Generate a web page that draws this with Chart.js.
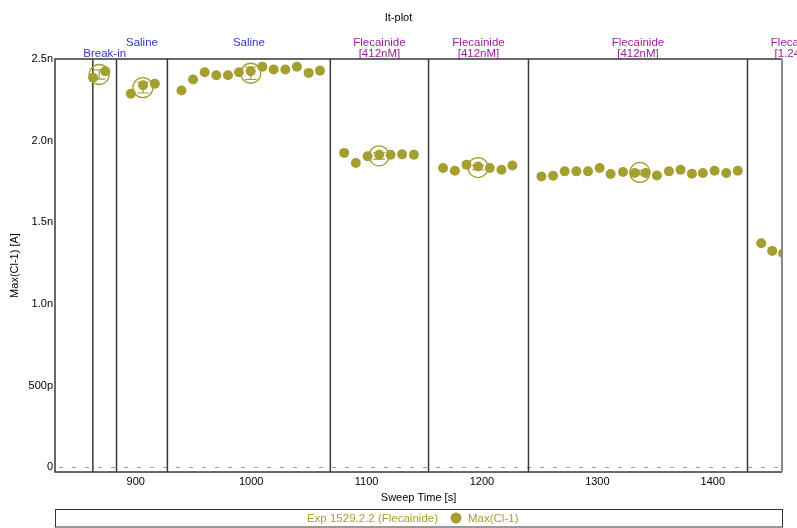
<!DOCTYPE html>
<html><head><meta charset="utf-8">
<script src="https://cdn.jsdelivr.net/npm/chart.js@4"></script>
<style>html,body{margin:0;padding:0;background:#fff;overflow:hidden}</style>
</head><body>
<canvas id="c" width="797" height="528" style="display:block;width:797px;height:528px"></canvas>
<script>
// ---- data (time in s, current in nA) ----
const breakInX  = [863.0, 873.6];
const breakInY  = [2.385, 2.425];
const saline1X  = [895.7, 906.3, 916.5];
const saline1Y  = [2.287, 2.339, 2.348];
const saline2X  = [939.6, 949.6, 959.7, 969.8, 979.9, 989.4, 999.6, 1009.7, 1019.5, 1029.6, 1039.6, 1049.8, 1059.6];
const saline2Y  = [2.307, 2.374, 2.419, 2.401, 2.401, 2.419, 2.425, 2.452, 2.436, 2.436, 2.452, 2.415, 2.429];
const flec1X    = [1080.6, 1090.7, 1100.9, 1110.9, 1120.8, 1130.8, 1141.0];
const flec1Y    = [1.925, 1.863, 1.904, 1.914, 1.914, 1.916, 1.914];
const flec2X    = [1166.3, 1176.5, 1186.6, 1196.6, 1206.8, 1216.9, 1226.4];
const flec2Y    = [1.833, 1.816, 1.853, 1.842, 1.833, 1.822, 1.848];
const flec3X    = [1251.5, 1261.6, 1271.7, 1281.8, 1291.9, 1302.0, 1311.5, 1322.2, 1332.3, 1341.8, 1351.6, 1362.0, 1372.1, 1381.9, 1391.4, 1401.6, 1411.7, 1421.7];
const flec3Y    = [1.781, 1.785, 1.812, 1.812, 1.812, 1.833, 1.796, 1.808, 1.802, 1.802, 1.787, 1.812, 1.822, 1.798, 1.802, 1.816, 1.802, 1.816];
const flec4X    = [1442.0, 1451.5, 1461.0];
const flec4Y    = [1.372, 1.325, 1.310];

const segmentStarts = [862.8, 883.3, 927.4, 1068.6, 1153.7, 1240.3, 1430.1];
const segmentEnds   = [883.3, 927.4, 1068.6, 1153.7, 1240.3, 1430.1, 1516.0];
const segmentNames  = ['Break-in', 'Saline', 'Saline', 'Flecainide', 'Flecainide', 'Flecainide', 'Flecainide'];
const segmentConcs  = ['', '', '', '[412nM]', '[412nM]', '[412nM]', '[1.24µM]'];

const xTickValues = [900, 1000, 1100, 1200, 1300, 1400];
const xTickLabels = ['900', '1000', '1100', '1200', '1300', '1400'];
const yTickValues = [0, 0.5, 1.0, 1.5, 2.0, 2.5];
const yTickLabels = ['0', '500p', '1.0n', '1.5n', '2.0n', '2.5n'];

const titleText   = 'It-plot';
const xTitleText  = 'Sweep Time [s]';
const yTitleText  = 'Max(Cl-1) [A]';
const legendExp   = 'Exp 1529.2.2 (Flecainide)';
const legendSeries = 'Max(Cl-1)';

// ---- derived ----
const segXs = [breakInX, saline1X, saline2X, flec1X, flec2X, flec3X, flec4X];
const segYs = [breakInY, saline1Y, saline2Y, flec1Y, flec2Y, flec3Y, flec4Y];
const completeSegments = 6; // segments fully inside the view get a mean marker
const points = [];
segXs.forEach((xs, i) => xs.forEach((x, j) => points.push({x: x, y: segYs[i][j]})));
const mean = a => a.reduce((s, v) => s + v, 0) / a.length;
const sd = a => { const m = mean(a); return Math.sqrt(a.reduce((s, v) => s + (v - m) * (v - m), 0) / Math.max(1, a.length - 1)); };
const means = [], errs = [];
for (let i = 0; i < completeSegments; i++) {
  means.push({x: mean(segXs[i]), y: mean(segYs[i])});
  errs.push(sd(segYs[i]));
}

const OLIVE = '#a59f30';
const FONT = '"Liberation Sans", Arial, sans-serif';
const BLUE = '#3434c8';
const PURPLE = '#9a1f9a';

const decor = {
  id: 'decor',
  beforeDatasetsDraw(chart) {
    const {ctx, chartArea: a, scales: {x, y}} = chart;
    ctx.save();
    const y0 = Math.round(y.getPixelForValue(0)) + 0.5;
    ctx.strokeStyle = '#9a9a9a'; ctx.lineWidth = 1; ctx.setLineDash([4, 9]);
    ctx.beginPath(); ctx.moveTo(a.left + 4, y0); ctx.lineTo(a.right, y0); ctx.stroke();
    ctx.setLineDash([]);
    ctx.strokeStyle = '#383838'; ctx.lineWidth = 1.5;
    segmentStarts.forEach(v => {
      const px = x.getPixelForValue(v);
      if (px < a.left || px > a.right) return;
      ctx.beginPath(); ctx.moveTo(px, a.top); ctx.lineTo(px, a.bottom); ctx.stroke();
    });
    ctx.restore();
  },
  afterDatasetsDraw(chart) {
    const {ctx, chartArea: a, scales: {x, y}, width} = chart;
    ctx.save();
    ctx.strokeStyle = OLIVE; ctx.lineWidth = 1.2;
    means.forEach((m, i) => {
      const px = x.getPixelForValue(m.x);
      const y1 = y.getPixelForValue(m.y - errs[i]);
      const y2 = y.getPixelForValue(m.y + errs[i]);
      ctx.beginPath();
      ctx.moveTo(px, y1); ctx.lineTo(px, y2);
      ctx.moveTo(px - 6, y1); ctx.lineTo(px + 6, y1);
      ctx.moveTo(px - 6, y2); ctx.lineTo(px + 6, y2);
      ctx.stroke();
    });
    ctx.lineWidth = 1.5; ctx.strokeStyle = '#383838';
    ctx.beginPath();
    ctx.moveTo(a.right, a.top); ctx.lineTo(a.left, a.top); ctx.lineTo(a.left, a.bottom); ctx.lineTo(a.right, a.bottom);
    ctx.stroke();
    ctx.strokeStyle = '#8a8a8a'; ctx.lineWidth = 2;
    ctx.beginPath(); ctx.moveTo(a.right, a.top); ctx.lineTo(a.right, a.bottom); ctx.stroke();
    ctx.font = '11.5px ' + FONT; ctx.textAlign = 'center'; ctx.textBaseline = 'middle';
    segmentNames.forEach((name, i) => {
      const cx = (x.getPixelForValue(segmentStarts[i]) + x.getPixelForValue(segmentEnds[i])) / 2;
      const isDrug = segmentConcs[i] !== '';
      ctx.fillStyle = isDrug ? PURPLE : BLUE;
      const row0 = a.top - 16, row1 = a.top - 5;
      if (isDrug) {
        ctx.fillText(name, cx, row0);
        ctx.fillText(segmentConcs[i], cx, row1);
      } else {
        const next = segmentNames[i + 1] !== undefined ? (x.getPixelForValue(segmentStarts[i + 1]) + x.getPixelForValue(segmentEnds[i + 1])) / 2 : Infinity;
        const w = ctx.measureText(name).width;
        const nw = segmentNames[i + 1] !== undefined ? ctx.measureText(segmentNames[i + 1]).width : 0;
        const overlap = cx + w / 2 > next - nw / 2 - 2;
        ctx.fillText(name, cx, overlap ? row1 : row0);
      }
    });
    ctx.fillStyle = '#000';
    ctx.font = '11px ' + FONT;
    ctx.fillText(titleText, width / 2, 18);
    ctx.fillText(xTitleText, (a.left + a.right) / 2, 498);
    ctx.save();
    ctx.translate(15, (a.top + a.bottom) / 2);
    ctx.rotate(-Math.PI / 2);
    ctx.fillText(yTitleText, 0, 0);
    ctx.restore();
    ctx.strokeStyle = '#333'; ctx.lineWidth = 1;
    ctx.strokeRect(a.left + 0.5, 509.5, a.right - a.left, 17.5);
    ctx.font = '11.5px ' + FONT;
    ctx.fillStyle = OLIVE;
    const cy = 519, cxm = 456;
    ctx.textAlign = 'right'; ctx.fillText(legendExp, cxm - 18, cy);
    ctx.textAlign = 'left'; ctx.fillText(legendSeries, cxm + 12, cy);
    ctx.beginPath(); ctx.arc(cxm, cy - 1, 5.5, 0, Math.PI * 2); ctx.fill();
    ctx.restore();
  }
};

new Chart(document.getElementById('c'), {
  type: 'scatter',
  data: {
    datasets: [
      { data: points, pointRadius: 5, pointBackgroundColor: OLIVE, pointBorderWidth: 0, borderColor: OLIVE, showLine: false, clip: 0 },
      { data: means, pointRadius: 10, pointBackgroundColor: 'rgba(0,0,0,0)', pointBorderColor: OLIVE, pointBorderWidth: 1.3, showLine: false, clip: 0 }
    ]
  },
  options: {
    responsive: false, animation: false, events: [], devicePixelRatio: 1,
    layout: { padding: { top: 59, right: 15, left: 0, bottom: 0 } },
    plugins: { legend: { display: false }, title: { display: false }, tooltip: { enabled: false } },
    scales: {
      x: {
        type: 'linear', min: 830, max: 1460,
        afterBuildTicks: s => { s.ticks = xTickValues.map(v => ({value: v})); },
        afterFit: s => { s.height = 56; },
        grid: { display: false, drawTicks: false },
        border: { display: false },
        ticks: { color: '#000', font: { size: 11, family: FONT }, padding: 3, maxRotation: 0, autoSkip: false,
                 callback: (v, i) => xTickLabels[i] }
      },
      y: {
        type: 'linear', min: -0.029, max: 2.5,
        afterBuildTicks: s => { s.ticks = yTickValues.map(v => ({value: v})); },
        afterFit: s => { s.width = 55; },
        grid: { display: false, drawTicks: false },
        border: { display: false },
        ticks: { color: '#000', font: { size: 11, family: FONT }, padding: 2, autoSkip: false,
                 callback: (v, i) => yTickLabels[i] }
      }
    }
  },
  plugins: [decor]
});
</script>
</body></html>
